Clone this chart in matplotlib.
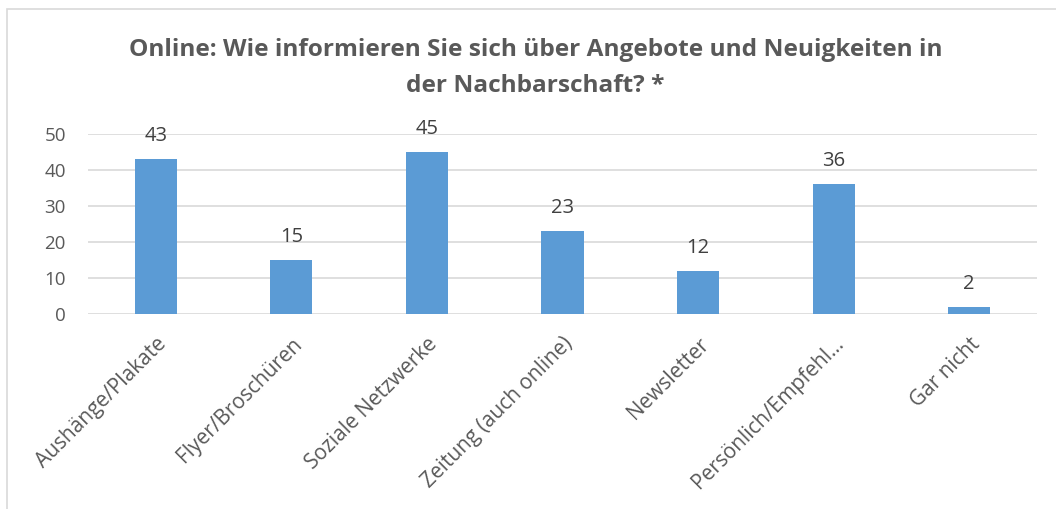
import matplotlib
matplotlib.use("Agg")
import matplotlib.pyplot as plt
from matplotlib.patches import Rectangle

categories = [
    "Aushänge/Plakate",
    "Flyer/Broschüren",
    "Soziale Netzwerke",
    "Zeitung (auch online)",
    "Newsletter",
    "Persönlich/Empfehl...",
    "Gar nicht",
]
counts = [43, 15, 45, 23, 12, 36, 2]
y_ticks = [0, 10, 20, 30, 40, 50]
title = "Online: Wie informieren Sie sich über Angebote und Neuigkeiten in\nder Nachbarschaft? *"

plt.rcParams["font.family"] = ["Open Sans", "DejaVu Sans"]

fig = plt.figure(figsize=(10.56, 5.09), dpi=100)
ax = fig.add_axes([88 / 1056, 1 - 314 / 509, (1037 - 88) / 1056, 180 / 509])

# chart frame like the spreadsheet export
fig.patches.append(Rectangle((7 / 1056, -0.1), 1.2, 1 - 9 / 509 + 0.1,
                             transform=fig.transFigure, fill=False,
                             edgecolor="#d9d9d9", linewidth=1.2))

x = list(range(len(categories)))
bars = ax.bar(x, counts, width=0.31, color="#5b9bd5", zorder=3)
for b, v in zip(bars, counts):
    ax.text(b.get_x() + b.get_width() / 2, v + 3.6, str(v), ha="center", va="bottom",
            fontsize=14.5, color="#404040", clip_on=False)

ax.set_xlim(-0.5, len(categories) - 0.5)
ax.set_ylim(0, 50)
ax.set_yticks(y_ticks)
ax.yaxis.grid(True, color="#d9d9d9", linewidth=1.2, zorder=0)
ax.set_xticks(x)
ax.set_xticklabels(categories, rotation=45, ha="right", rotation_mode="anchor", fontsize=15)
ax.tick_params(axis="both", length=0, labelcolor="#595959")
ax.tick_params(axis="y", pad=16, labelsize=13.5)
ax.tick_params(axis="x", pad=14)
for s in ax.spines.values():
    s.set_visible(False)

fig.text(0.507, 1 - 68 / 509, title, ha="center", va="center", fontsize=17.6,
         fontweight="bold", color="#595959", linespacing=1.62)

fig.savefig("out.png", dpi=100, facecolor="white")
